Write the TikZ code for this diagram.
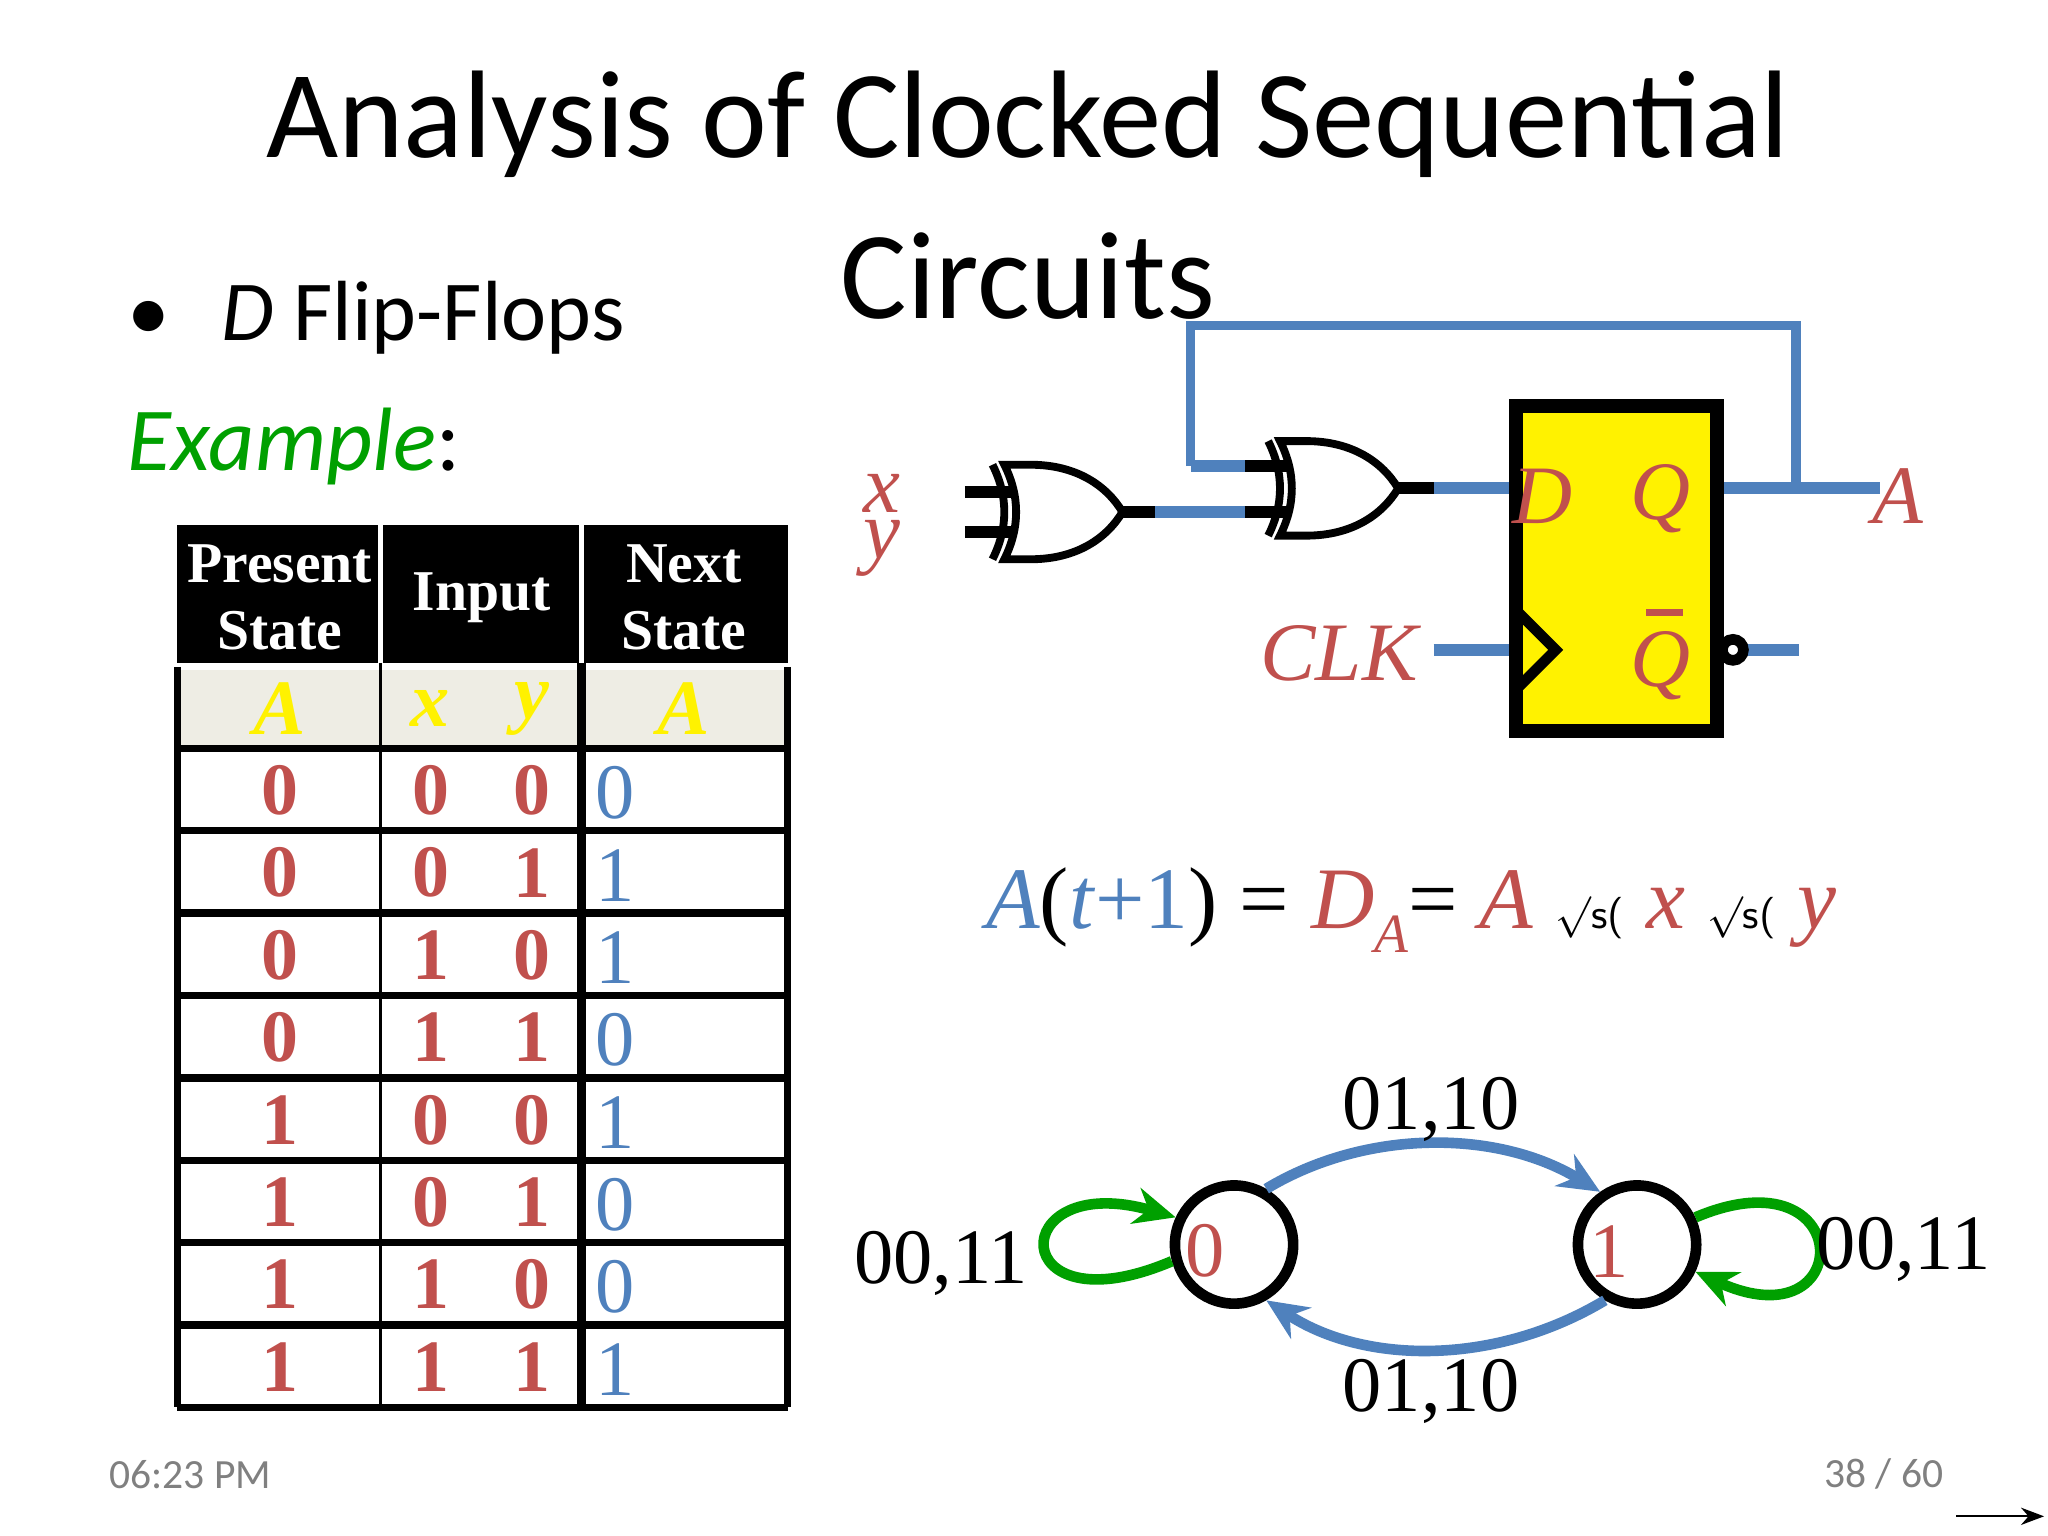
\documentclass[tikz,border=0pt]{standalone}
\usepackage{fontspec}
\setmainfont{Liberation Serif}
\newfontfamily\slidefont{Carlito}
\usetikzlibrary{arrows.meta,positioning,calc}
\definecolor{sred}{HTML}{C0504D}
\definecolor{sblue}{HTML}{4F81BD}
\definecolor{sgreen}{HTML}{00A000}
\definecolor{sbeige}{HTML}{EEEDE4}
\tikzset{
  wire/.style={sblue,line width=2.6pt},
  gate/.style={black,line width=1.7pt,fill=white},
  lbl/.style={sred,font=\fontsize{18}{18}\selectfont\itshape},
  cell/.style={font=\fontsize{16}{16}\selectfont\bfseries,sred},
  ycell/.style={font=\fontsize{17}{17}\selectfont\bfseries\itshape,yellow},
  nxt/.style={font=\fontsize{17}{17}\selectfont,sblue,anchor=west},
  hdr/.style={font=\fontsize{12.5}{14.5}\selectfont\bfseries,white,align=center},
  st/.style={circle,draw,line width=2.3pt,minimum size=0.9cm},
  tr/.style={sblue,line width=2.3pt,-{Stealth[length=9pt,width=8pt]}},
  lp/.style={sgreen,line width=2.3pt,-{Stealth[length=9pt,width=8pt]}},
  tlbl/.style={font=\fontsize{17}{17}\selectfont},
  pics/xorg/.style={code={
    \draw[gate] (0,-36) .. controls (12,-12) and (12,12) .. (0,36) -- (20,36)
      .. controls (55,36) and (78,20) .. (90,0) .. controls (78,-20) and (55,-36) .. (20,-36) -- cycle;
    \draw[gate,fill=none] (-9,-36) .. controls (3,-12) and (3,12) .. (-9,36);
  }}
}
\begin{document}
\begin{tikzpicture}[x=0.01cm,y=-0.01cm]
    \useasboundingbox (0,0) rectangle (1560,1170);

    % Title and bullets
    \node[font=\slidefont\fontsize{27}{27}\selectfont] (title1) at (783,95) {Analysis of Clocked Sequential};
    \node[font=\slidefont\fontsize{27}{27}\selectfont] (title2) at (783,210) {Circuits};
    \node[font=\slidefont\fontsize{18.5}{18.5}\selectfont,anchor=west] (bullet) at (85,242) {\textbullet\hspace{0.6em}\textit{D} Flip-Flops};
    \node[font=\slidefont\fontsize{19.5}{19.5}\selectfont,anchor=west] (example) at (85,340) {\textcolor{sgreen}{\textit{Example}}:};

    % Table header
    \fill[black] (135,400) rectangle (600,505);
    \draw[white,line width=1pt] (290,400) -- (290,505) (443,400) -- (443,505);
    \fill[sbeige] (135,510) rectangle (600,570);
    \node[hdr] (hps) at (213,455) {Present\\State};
    \node[hdr] (hin) at (367,455) {Input};
    \node[hdr] (hns) at (521,455) {Next\\State};
    \node[ycell] (ha) at (213,540) {A};
    \node[ycell] (hx) at (328,540) {x};
    \node[ycell] (hy) at (405,540) {y};
    \node[ycell] (hn) at (521,540) {A};

    % Table rows
    \foreach \a/\x/\y/\n [count=\i from 0] in {0/0/0/0,0/0/1/1,0/1/0/1,0/1/1/0,1/0/0/1,1/0/1/0,1/1/0/0,1/1/1/1} {
      \node[cell] (ra\i) at (213,{602+62.75*\i}) {\a};
      \node[cell] (rx\i) at (328,{602+62.75*\i}) {\x};
      \node[cell] (ry\i) at (405,{602+62.75*\i}) {\y};
      \node[nxt] (rn\i) at (441,{604+62.75*\i}) {\n};
    }
    \foreach \i in {0,...,8} \draw[line width=1.6pt] (135,{570+62.75*\i}) -- (600,{570+62.75*\i});
    \draw[line width=1.6pt] (135,508) -- (135,1072) (600,508) -- (600,1072);
    \draw[line width=0.7pt] (290,505) -- (290,1072);
    \draw[line width=2pt] (443,505) -- (443,1072);

    % Circuit
    \node[lbl] (lx) at (672,376) {x};
    \node[lbl] (ly) at (672,418) {y};
    \draw[line width=2.6pt] (735,375) -- (770,375) (735,405) -- (770,405);
    \pic at (765,390) {xorg};
    \draw[line width=2.6pt] (852,390) -- (880,390);
    \draw[wire] (880,390) -- (948,390);
    \draw[line width=2.6pt] (948,390) -- (982,390) (948,355) -- (982,355);
    \pic at (975,372) {xorg};
    \draw[line width=2.6pt] (1065,372) -- (1092,372);
    \draw[wire] (1092,372) -- (1155,372);
    \draw[sblue,line width=2pt] (907,355) -- (907,248) -- (1368,248) -- (1368,372);
    \draw[wire] (907,355) -- (948,355);
    \draw[wire] (1308,372) -- (1432,372);
    \draw[wire] (1092,495) -- (1155,495);
    \draw[wire] (1330,495) -- (1370,495);

    \node[draw=black,fill=yellow,line width=3pt,minimum width=1.53cm,minimum height=2.47cm,inner sep=0pt] (ff) at (1231,433) {};
    \draw[line width=2.3pt] (1155,465) -- (1185,495) -- (1155,525);
    \draw[line width=2.3pt,fill=white] (1320,495) circle (8);
    \node[lbl] (ld) at (1175,378) {D};
    \node[lbl] (lq) at (1265,380) {Q};
    \node[lbl] (lqb) at (1265,507) {Q};
    \fill[sred] (1254,464) rectangle (1282,469);
    \node[lbl] (lclk) at (1020,498) {CLK};
    \node[lbl] (la) at (1446,378) {A};

    % Equation
    \node[font=\fontsize{19}{19}\selectfont] (eq) at (1075,693)
      {\textcolor{sblue}{\textit{A}}(\textcolor{sblue}{\textit{t}+1}) = \textcolor{sred}{\textit{D}\raisebox{-0.6ex}{\fontsize{12}{12}\selectfont\textit{A}}}= \textcolor{sred}{\textit{A}}
       {\sffamily\fontsize{9}{9}\selectfont$\surd$s(} \textcolor{sred}{\textit{x}}
       {\sffamily\fontsize{9}{9}\selectfont$\surd$s(} \textcolor{sred}{\textit{y}}};

    % State diagram
    \node[st] (s0) at (940,948) {};
    \node[st] (s1) at (1247,948) {};
    \node[sred,tlbl] (n0) at (918,953) {0};
    \node[sred,tlbl] (n1) at (1226,953) {1};
    \draw[tr] (s0.60) .. controls (1040,860) and (1140,860) .. (s1.125);
    \draw[tr] (s1.-120) .. controls (1140,1040) and (1040,1040) .. (s0.-60);
    \draw[lp] (s0.-165) .. controls (765,1015) and (765,890) .. (s0.155);
    \draw[lp] (s1.25) .. controls (1415,875) and (1415,1025) .. (s1.-25);
    \node[tlbl] (t01a) at (1090,845) {01,10};
    \node[tlbl] (t01b) at (1090,1060) {01,10};
    \node[tlbl] (t00a) at (717,962) {00,11};
    \node[tlbl] (t00b) at (1450,952) {00,11};

    % Footer
    \node[gray,font=\slidefont\fontsize{9}{9}\selectfont] (time) at (145,1123) {06:23 PM};
    \node[gray,font=\slidefont\fontsize{9}{9}\selectfont] (page) at (1435,1123) {38 / 60};
    \coordinate (ar0) at (1490,1155);
    \coordinate (ar1) at (1557,1155);
    \draw[-{Stealth[length=5pt]},thin] (ar0) -- (ar1);
\end{tikzpicture}
\end{document}
